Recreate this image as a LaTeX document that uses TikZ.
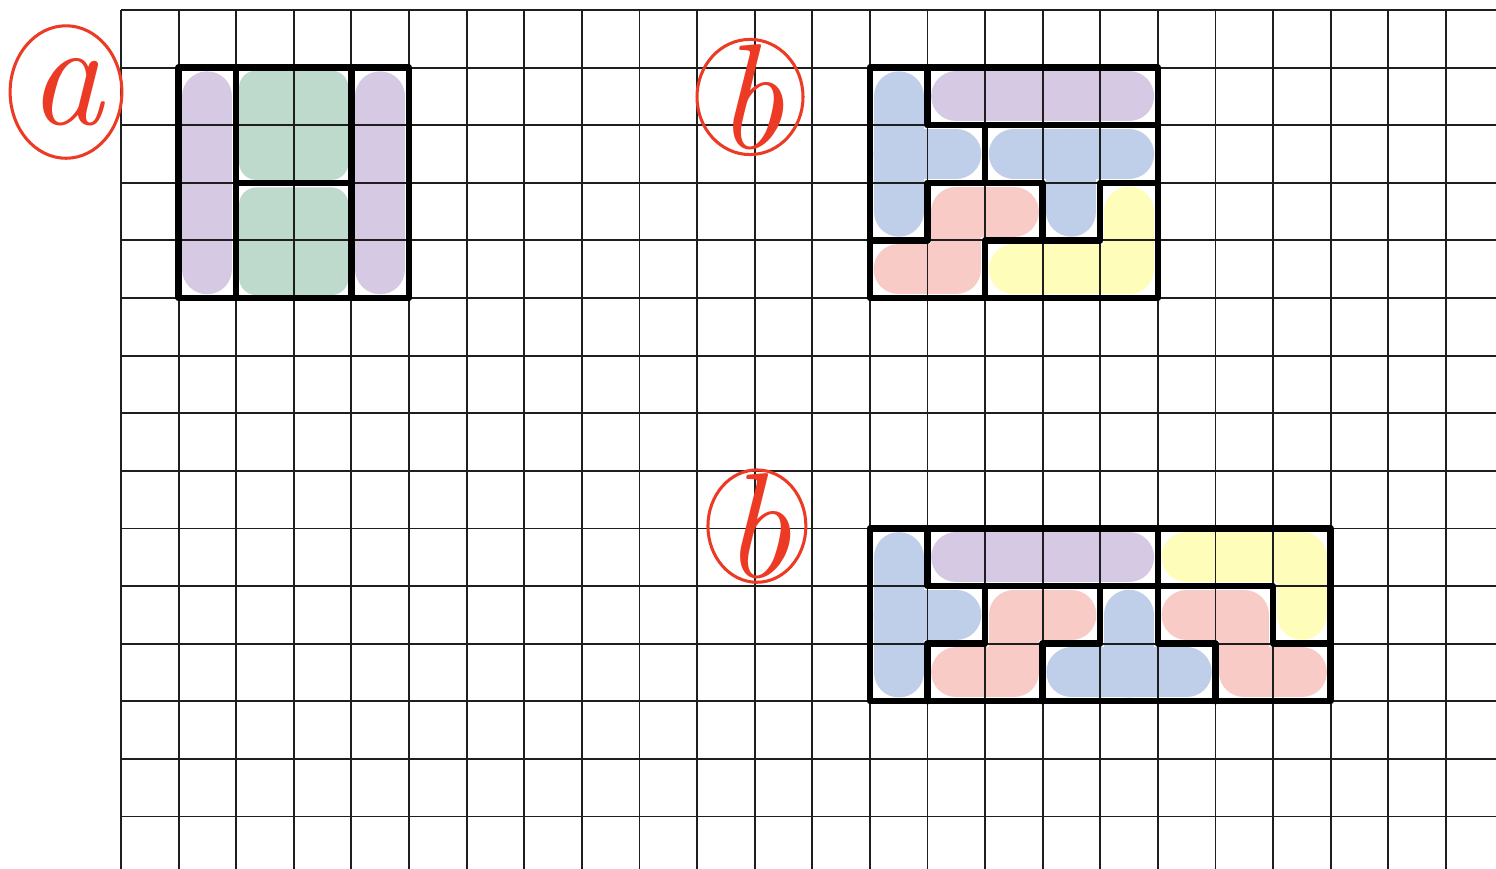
\documentclass[tikz,border=0pt]{standalone}
\usepackage{xcolor}
\usepackage{tikz}
\usetikzlibrary{shapes.geometric}
\definecolor{penred}  {RGB}{236,58,36}
\definecolor{hlpurple}{RGB}{214,201,227}
\definecolor{hlgreen} {RGB}{189,218,205}
\definecolor{hlblue}  {RGB}{191,207,233}
\definecolor{hlpink}  {RGB}{248,203,198}
\definecolor{hlyellow}{RGB}{255,253,186}
\definecolor{gridgray}{RGB}{30,30,30}

\begin{document}
\begin{tikzpicture}[
  gridline/.style={draw=gridgray, line width=0.9pt},
  hl/.style={line width=0.87cm, line cap=round, line join=round},
  hlbox/.style={rounded corners=0.3cm},
  border/.style={draw=black, line width=3.2pt, line cap=round, line join=round},
  ring/.style={ellipse, draw=penred, line width=1.5pt, inner sep=0pt},
  tagtext/.style={text=penred, font=\fontsize{74}{74}\selectfont\itshape},
]
\useasboundingbox[fill=white] (-2.1007,0.1736) rectangle (23.871,-14.913);

% Highlights -- a
\draw[hl, hlpurple] (1.5,-1.5) -- (1.5,-4.5);
\draw[hl, hlpurple] (4.5,-1.5) -- (4.5,-4.5);
\fill[hlbox, hlgreen] (2.05,-1.05) rectangle (3.95,-2.95);
\fill[hlbox, hlgreen] (2.05,-3.08) rectangle (3.95,-4.95);

% Highlights -- b (top)
\draw[hl, hlblue]   (13.5,-1.5) -- (13.5,-3.5) (13.5,-2.5) -- (14.5,-2.5);
\draw[hl, hlpurple] (14.5,-1.5) -- (17.5,-1.5);
\draw[hl, hlblue]   (15.5,-2.5) -- (17.5,-2.5) (16.5,-2.5) -- (16.5,-3.5);
\draw[hl, hlpink]   (15.5,-3.5) -- (14.5,-3.5) -- (14.5,-4.5) -- (13.5,-4.5);
\draw[hl, hlyellow] (17.5,-3.5) -- (17.5,-4.5) -- (15.5,-4.5);

% Highlights -- b (bottom)
\draw[hl, hlblue]   (13.5,-9.5) -- (13.5,-11.5) (13.5,-10.5) -- (14.5,-10.5);
\draw[hl, hlpurple] (14.5,-9.5) -- (17.5,-9.5);
\draw[hl, hlpink]   (16.5,-10.5) -- (15.5,-10.5) -- (15.5,-11.5) -- (14.5,-11.5);
\draw[hl, hlblue]   (17.5,-10.5) -- (17.5,-11.5) (16.5,-11.5) -- (18.5,-11.5);
\draw[hl, hlyellow] (18.5,-9.5) -- (20.5,-9.5) -- (20.5,-10.5);
\draw[hl, hlpink]   (18.5,-10.5) -- (19.5,-10.5) -- (19.5,-11.5) -- (20.5,-11.5);

% Squared paper
\draw[gridline] (0,0) grid (23.871,-14.913);

% Borders -- a
\draw[border] (1,-1) rectangle (5,-5);
\draw[border] (2,-1) -- (2,-5);
\draw[border] (4,-1) -- (4,-5);
\draw[border] (2,-3) -- (4,-3);

% Borders -- b (top)
\draw[border] (13,-1) rectangle (18,-5);
\draw[border] (14,-1) -- (14,-2) -- (18,-2);
\draw[border] (15,-2) -- (15,-3);
\draw[border] (13,-4) -- (14,-4) -- (14,-3) -- (16,-3) -- (16,-4) -- (17,-4) -- (17,-3) -- (18,-3);
\draw[border] (15,-5) -- (15,-4) -- (16,-4);

% Borders -- b (bottom)
\draw[border] (13,-9) rectangle (21,-12);
\draw[border] (14,-9) -- (14,-10) -- (20,-10) -- (20,-11) -- (21,-11);
\draw[border] (18,-9) -- (18,-11) -- (19,-11) -- (19,-12);
\draw[border] (15,-10) -- (15,-11) -- (14,-11) -- (14,-12);
\draw[border] (17,-10) -- (17,-11) -- (16,-11) -- (16,-12);

% Tags
\node[ring, minimum width=1.94cm, minimum height=2.3cm] (ringa) at (-0.955,-1.424) {};
\node[tagtext] (taga) at (ringa.center) {a};
\node[ring, minimum width=1.84cm, minimum height=2.0cm] (ringb) at (10.92,-1.51) {};
\node[tagtext] (tagb) at (ringb.center) {b};
\node[ring, minimum width=1.70cm, minimum height=1.95cm] (ringc) at (11.04,-8.96) {};
\node[tagtext] (tagc) at (ringc.center) {b};
\end{tikzpicture}
\end{document}
